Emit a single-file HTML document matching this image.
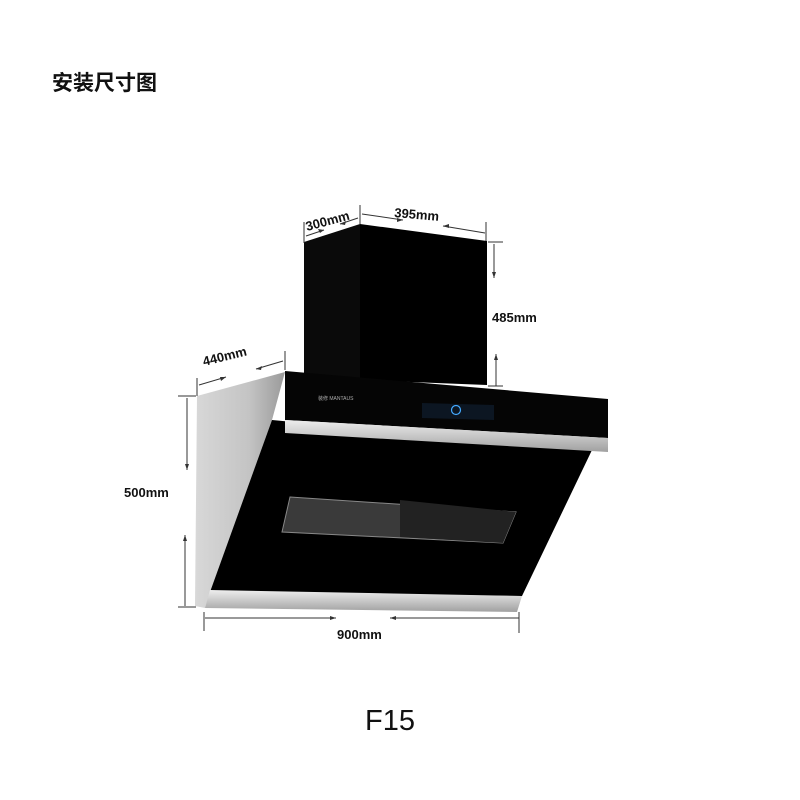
<!DOCTYPE html>
<html><head><meta charset="utf-8"><style>
body{margin:0;background:#fff}
svg{display:block}
text{font-family:"Liberation Sans","Noto Sans CJK SC",sans-serif;font-weight:bold;fill:#111}
</style></head><body>
<svg width="800" height="800" viewBox="0 0 800 800" xmlns="http://www.w3.org/2000/svg">
<defs>
<linearGradient id="side" x1="0" y1="0" x2="1" y2="0"><stop offset="0" stop-color="#d8d8d8"/><stop offset="0.6" stop-color="#c4c4c4"/><stop offset="1" stop-color="#9a9a9a"/></linearGradient>
<linearGradient id="strip" x1="0" y1="0" x2="0" y2="1"><stop offset="0" stop-color="#eee"/><stop offset="1" stop-color="#a0a0a0"/></linearGradient>
</defs>
<text x="52" y="90" font-size="21">安装尺寸图</text>
<!-- chimney -->
<polygon points="304,242 360,224 360,380 304,380" fill="#0a0a0a"/>
<polygon points="360,224 487,241 487,385 360,380" fill="#000"/>
<!-- side panel -->
<polygon points="197,396 285,372 272,420 210,592 205,608 195,606" fill="url(#side)"/>
<!-- glass -->
<polygon points="272,420 592,450 522,596 210,592" fill="#000"/>
<polygon points="290,497 516,512 503,543 282,532" fill="#3a3a3a" stroke="#888" stroke-width="1"/>
<polygon points="400,500 516,512 503,543 400,537" fill="#222"/>
<!-- top panel -->
<polygon points="285,371 608,399 608,438 285,420" fill="#050505"/>
<polygon points="285,420 608,438 608,452 285,433" fill="url(#strip)"/>
<polygon points="422,403 494,405 494,420 422,418" fill="#0c1622"/>
<circle cx="456" cy="410" r="4.5" fill="none" stroke="#4af" stroke-width="1.2"/>
<text x="318" y="400" font-size="5" fill="#aaa" style="fill:#aaa;font-weight:normal">装修 MANTAUS</text>
<!-- bottom strip -->
<polygon points="210,590 522,596 517,612 205,608" fill="url(#strip)"/>
<!-- dimension lines -->
<g stroke="#333" stroke-width="1" fill="none">
<line x1="304" y1="222" x2="304" y2="243"/>
<line x1="360" y1="205" x2="360" y2="224"/>
<line x1="306" y1="236" x2="324" y2="230"/>
<line x1="340" y1="224" x2="358" y2="218"/>
<line x1="362" y1="214" x2="403" y2="220"/>
<line x1="443" y1="226" x2="485" y2="233"/>
<line x1="486" y1="222" x2="486" y2="241"/>
<line x1="488" y1="242" x2="503" y2="242"/>
<line x1="494" y1="244" x2="494" y2="278"/>
<line x1="496" y1="354" x2="496" y2="386"/>
<line x1="488" y1="386" x2="503" y2="386"/>
<line x1="197" y1="378" x2="197" y2="396"/>
<line x1="285" y1="351" x2="285" y2="370"/>
<line x1="199" y1="385" x2="226" y2="377"/>
<line x1="256" y1="369" x2="283" y2="361"/>
<line x1="178" y1="396" x2="196" y2="396"/>
<line x1="187" y1="398" x2="187" y2="470"/>
<line x1="185" y1="535" x2="185" y2="606"/>
<line x1="178" y1="607" x2="196" y2="607"/>
<line x1="204" y1="612" x2="204" y2="631"/>
<line x1="519" y1="612" x2="519" y2="633"/>
<line x1="205" y1="618" x2="336" y2="618"/>
<line x1="390" y1="618" x2="519" y2="618"/>
</g>
<g fill="#333">
<polygon points="324,230 318,229 320,233"/>
<polygon points="340,224 346,221 345,225"/>
<polygon points="403,220 397,218 397,222"/>
<polygon points="443,226 449,224 449,228"/>
<polygon points="494,278 492,272 496,272"/>
<polygon points="496,354 494,360 498,360"/>
<polygon points="226,377 220,377 221,381"/>
<polygon points="256,369 262,366 261,370"/>
<polygon points="187,470 185,464 189,464"/>
<polygon points="185,535 183,541 187,541"/>
<polygon points="336,618 330,616 330,620"/>
<polygon points="390,618 396,616 396,620"/>
</g>
<text x="0" y="0" font-size="13" transform="translate(307,231) rotate(-15)">300mm</text>
<text x="0" y="0" font-size="13" transform="translate(394,217) rotate(5)">395mm</text>
<text x="492" y="322" font-size="13">485mm</text>
<text x="0" y="0" font-size="13" transform="translate(204,366) rotate(-14)">440mm</text>
<text x="124" y="497" font-size="13">500mm</text>
<text x="337" y="639" font-size="13">900mm</text>
<text x="365" y="730" font-size="29" style="font-weight:normal">F15</text>
</svg>
</body></html>
